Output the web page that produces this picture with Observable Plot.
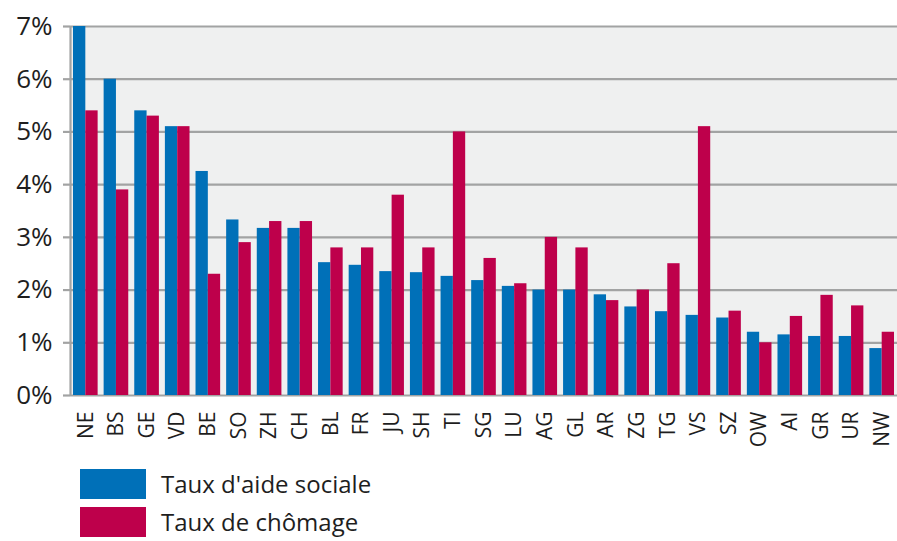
<!DOCTYPE html>
<html>
<head>
<meta charset="utf-8">
<script src="https://cdn.jsdelivr.net/npm/d3@7"></script>
<script src="https://cdn.jsdelivr.net/npm/@observablehq/plot@0.6"></script>
<style>
  html, body { margin: 0; padding: 0; background: #fff; }
  body { width: 897px; height: 541px; overflow: hidden; font-family: "Open Sans", sans-serif; color: #1e1e1e; }
  #legend { margin-left: 80px; margin-top: 4px; }
  .row { display: flex; align-items: center; height: 30px; margin-bottom: 8px; }
  .sw { width: 66px; height: 30px; margin-right: 15px; }
  .lab { font-size: 24px; line-height: 30px; }
</style>
</head>
<body>
<div id="chart"></div>
<div id="legend"></div>
<script>
const states = ["NE","BS","GE","VD","BE","SO","ZH","CH","BL","FR","JU","SH","TI","SG","LU","AG","GL","AR","ZG","TG","VS","SZ","OW","AI","GR","UR","NW"];
const aide = [7.0,6.0,5.4,5.1,4.25,3.33,3.17,3.17,2.52,2.47,2.35,2.33,2.26,2.18,2.07,2.0,2.0,1.91,1.68,1.59,1.52,1.47,1.2,1.15,1.12,1.12,0.89];
const chomage = [5.4,3.9,5.3,5.1,2.3,2.9,3.3,3.3,2.8,2.8,3.8,2.8,5.0,2.6,2.12,3.0,2.8,1.8,2.0,2.5,5.1,1.6,1.0,1.5,1.9,1.7,1.2];
const seriesNames = ["Taux d'aide sociale", "Taux de chômage"];
const seriesColors = ["#0070b8", "#be004b"];
const yTicks = [0,1,2,3,4,5,6,7];

const W = 897, H = 465, ML = 70, MR = 0, MT = 26, MB = 70;
const bw = (W - ML - MR) / states.length;
const outer = 3;
const half = bw / 2;

const rowsA = states.map((s, i) => ({state: s, v: aide[i]}));
const rowsC = states.map((s, i) => ({state: s, v: chomage[i]}));

const chart = Plot.plot({
  width: W, height: H,
  marginLeft: ML, marginRight: MR, marginTop: MT, marginBottom: MB,
  style: {fontFamily: "Open Sans, sans-serif", color: "#1e1e1e", background: "#fff"},
  x: {domain: states, padding: 0, round: false},
  y: {domain: [0, 7]},
  marks: [
    Plot.frame({fill: "#eff0f0", stroke: "none"}),
    Plot.gridY(yTicks, {stroke: "#a2a3a3", strokeOpacity: 1, strokeWidth: 2.2}),
    Plot.barY(rowsA, {x: "state", y: "v", fill: seriesColors[0], insetLeft: outer, insetRight: half}),
    Plot.barY(rowsC, {x: "state", y: "v", fill: seriesColors[1], insetLeft: half, insetRight: outer}),
    Plot.ruleX([states[0]], {y1: 0, y2: 7, dx: -half, stroke: "#a2a3a3", strokeWidth: 2.2}),
    Plot.axisY(yTicks, {tickSize: 7, tickPadding: 11, stroke: "#a2a3a3", strokeWidth: 2.2, fontSize: 26, fill: "#1e1e1e", tickFormat: d => d + "%", label: null}),
    Plot.axisX({tickSize: 0, tickPadding: 16, tickRotate: -90, fontSize: 21, fill: "#1e1e1e", label: null})
  ]
});
document.getElementById("chart").appendChild(chart);

const legend = document.getElementById("legend");
seriesNames.forEach((name, i) => {
  const row = document.createElement("div");
  row.className = "row";
  const sw = document.createElement("div");
  sw.className = "sw";
  sw.style.background = seriesColors[i];
  const lab = document.createElement("div");
  lab.className = "lab";
  lab.textContent = name;
  row.appendChild(sw); row.appendChild(lab);
  legend.appendChild(row);
});
</script>
</body>
</html>
